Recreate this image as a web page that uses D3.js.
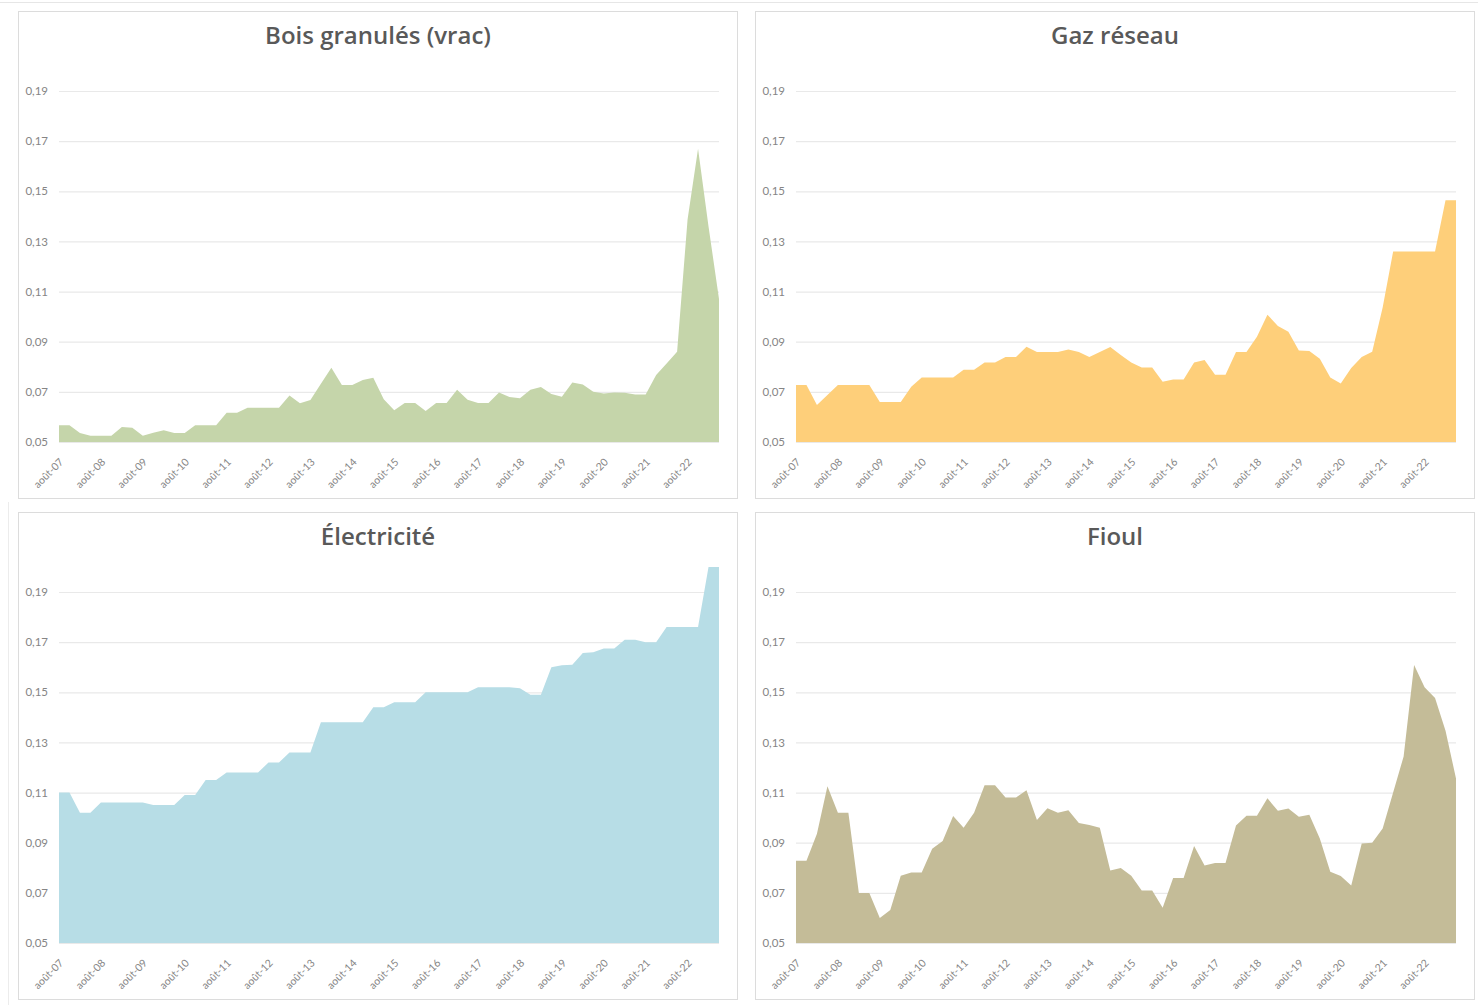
<!DOCTYPE html>
<html>
<head>
<meta charset="utf-8">
<script src="https://cdn.jsdelivr.net/npm/d3@7"></script>
<style>
  html, body { margin: 0; padding: 0; background: #ffffff; }
  svg { display: block; }
  .ytick text { font-family: Lato, "Open Sans", sans-serif; font-size: 11.5px; fill: #858585; }
  .xtick text { font-family: Lato, "Open Sans", sans-serif; font-size: 10.5px; fill: #858585; }
  .title { font-family: "Open Sans", Lato, sans-serif; font-weight: 600; font-size: 24px; fill: #595959; }
</style>
</head>
<body>
<svg id="chart" width="1478" height="1005"></svg>
<script>
// ---------- DATA (quarterly, août-07 → mai-23) ----------
const titles = ["Bois granulés (vrac)", "Gaz réseau", "Électricité", "Fioul"];
const colors = ["#c5d5aa", "#fecf7a", "#b7dde6", "#c4bc98"];

const xTickLabels = ["août-07","août-08","août-09","août-10","août-11","août-12","août-13","août-14",
  "août-15","août-16","août-17","août-18","août-19","août-20","août-21","août-22"];
const yTickValues = [0.05, 0.07, 0.09, 0.11, 0.13, 0.15, 0.17, 0.19];

const boisGranules = [
  0.0567,0.0567,0.0536,0.0525,0.0525,0.0525,0.0560,0.0557,0.0525,0.0537,0.0547,0.0536,0.0536,0.0567,0.0567,0.0567,
  0.0617,0.0617,0.0637,0.0637,0.0637,0.0637,0.0685,0.0655,0.0668,0.0732,0.0796,0.0727,0.0727,0.0747,0.0756,0.0671,
  0.0627,0.0656,0.0656,0.0624,0.0656,0.0656,0.0708,0.0669,0.0656,0.0656,0.0697,0.0679,0.0675,0.0708,0.0719,0.0691,
  0.0680,0.0737,0.0729,0.0700,0.0693,0.0697,0.0696,0.0689,0.0689,0.0767,0.0813,0.0860,0.1387,0.1670,0.1360,0.1070
];
const gazReseau = [
  0.0727,0.0727,0.0648,0.0687,0.0727,0.0727,0.0727,0.0727,0.0660,0.0660,0.0660,0.0720,0.0757,0.0757,0.0757,0.0757,
  0.0788,0.0788,0.0817,0.0817,0.0839,0.0839,0.0880,0.0859,0.0859,0.0859,0.0869,0.0859,0.0839,0.0859,0.0879,0.0847,
  0.0817,0.0797,0.0797,0.0740,0.0749,0.0749,0.0817,0.0827,0.0768,0.0768,0.0859,0.0859,0.0920,0.1008,0.0963,0.0940,
  0.0865,0.0863,0.0832,0.0757,0.0733,0.0795,0.0839,0.0860,0.1036,0.1260,0.1260,0.1260,0.1260,0.1260,0.1464,0.1464
];
const electricite = [
  0.110,0.110,0.102,0.102,0.106,0.106,0.106,0.106,0.106,0.105,0.105,0.105,0.109,0.109,0.115,0.115,
  0.118,0.118,0.118,0.118,0.122,0.122,0.126,0.126,0.126,0.138,0.138,0.138,0.138,0.138,0.144,0.144,
  0.146,0.146,0.146,0.150,0.150,0.150,0.150,0.150,0.152,0.152,0.152,0.152,0.1516,0.149,0.149,0.160,
  0.1608,0.161,0.1657,0.166,0.1675,0.1675,0.171,0.171,0.170,0.170,0.176,0.176,0.176,0.176,0.200,0.200
];
const fioul = [
  0.0828,0.0828,0.0936,0.1125,0.1020,0.1020,0.0699,0.0699,0.0600,0.0632,0.0768,0.0781,0.0781,0.0876,0.0907,0.1007,
  0.0960,0.1020,0.1129,0.1129,0.1080,0.1080,0.1109,0.0991,0.1037,0.1020,0.1029,0.0979,0.0971,0.0960,0.0789,0.0799,
  0.0768,0.0709,0.0709,0.0641,0.0759,0.0759,0.0887,0.0809,0.0819,0.0819,0.0969,0.1008,0.1008,0.1077,0.1027,0.1036,
  0.1004,0.1012,0.0917,0.0784,0.0767,0.0729,0.0897,0.0900,0.0957,0.1100,0.1244,0.1609,0.1520,0.1477,0.1347,0.1156
];
const seriesList = [boisGranules, gazReseau, electricite, fioul];

// ---------- LAYOUT ----------
const svg = d3.select("#chart");
const panelLefts = [18, 755, 18, 755];
const panelTops = [11, 11, 512, 512];
const panelW = 719, panelH = 487;
const plotLeft = 41, plotW = 660;
const baseOffset = 431;        // y of 0.05 relative to panel top
const plotH = 351;             // 0.05 → 0.19

// outer frame hints
svg.append("line").attr("x1", 0).attr("x2", 1478).attr("y1", 2.5).attr("y2", 2.5)
  .attr("stroke", "#e6e6e6").attr("stroke-width", 1);
svg.append("line").attr("x1", 8.5).attr("x2", 8.5).attr("y1", 502).attr("y2", 1005)
  .attr("stroke", "#ececec").attr("stroke-width", 1);

seriesList.forEach((data, k) => {
  const g = svg.append("g").attr("transform", `translate(${panelLefts[k]},${panelTops[k]})`);

  g.append("rect").attr("x", 0.5).attr("y", 0.5).attr("width", panelW).attr("height", panelH)
    .attr("fill", "#ffffff").attr("stroke", "#dcdcdc").attr("stroke-width", 1);

  g.append("text").attr("class", "title")
    .attr("x", panelW / 2 + 0.5).attr("y", 33).attr("text-anchor", "middle")
    .text(titles[k]);

  const x = d3.scaleLinear().domain([0, data.length - 1]).range([plotLeft, plotLeft + plotW]);
  const y = d3.scaleLinear().domain([0.05, 0.19]).range([baseOffset, baseOffset - plotH]);

  // y axis with gridlines
  const yAxis = d3.axisLeft(y)
    .tickValues(yTickValues)
    .tickSize(-plotW)
    .tickPadding(11)
    .tickFormat(d => d3.format(".2f")(d).replace(".", ","));
  const ya = g.append("g").attr("class", "ytick")
    .attr("transform", `translate(${plotLeft},0)`)
    .call(yAxis);
  ya.select(".domain").remove();
  ya.selectAll(".tick line").attr("stroke", "#e9e9e9").attr("stroke-width", 1.2);

  // area
  const area = d3.area()
    .x((d, i) => x(i))
    .y0(y(0.05))
    .y1(d => y(d));
  g.append("path").datum(data)
    .attr("d", area)
    .attr("fill", colors[k]);

  // x axis
  const xAxis = d3.axisBottom(x)
    .tickValues(xTickLabels.map((_, i) => i * 4))
    .tickSize(0)
    .tickFormat((d, i) => xTickLabels[i]);
  const xa = g.append("g").attr("class", "xtick")
    .attr("transform", `translate(0,${baseOffset})`)
    .call(xAxis);
  xa.select(".domain").remove();
  xa.selectAll("text")
    .attr("x", 0).attr("y", 0).attr("dy", "0.35em")
    .attr("text-anchor", "end")
    .attr("transform", "translate(2,18) rotate(-45)");
});
</script>
</body>
</html>
